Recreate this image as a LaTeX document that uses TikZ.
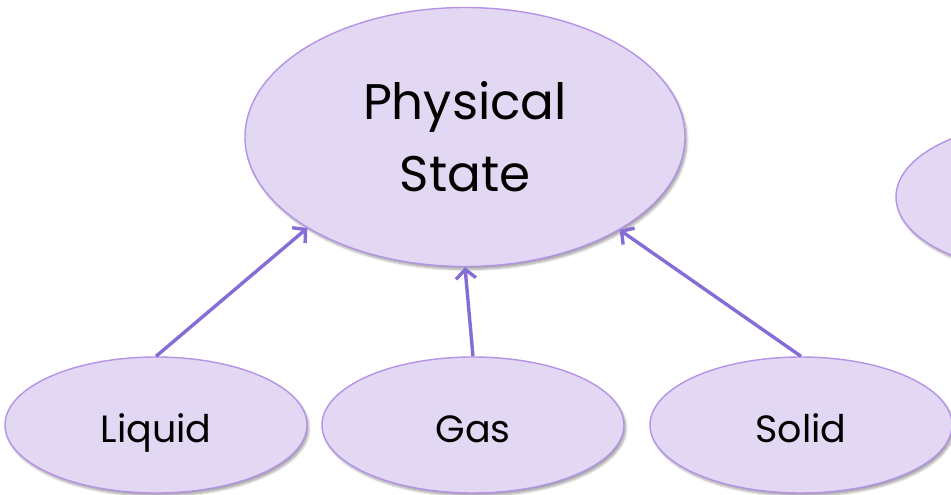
\documentclass[tikz,border=0pt]{standalone}
\usepackage{fontspec}
\setmainfont{Poppins}
\usetikzlibrary{shapes.geometric,arrows.meta,shadows.blur}
\definecolor{bubblefill}{RGB}{226,216,243}
\definecolor{bubbleedge}{RGB}{180,146,230}
\definecolor{linkcolor}{RGB}{134,108,214}
\tikzset{
  bubble/.style={ellipse, draw=bubbleedge, line width=1.4pt, fill=bubblefill,
    inner sep=0pt, align=center,
    blur shadow={shadow xshift=2pt, shadow yshift=-3pt, shadow blur steps=6, shadow opacity=35}},
  bigbubble/.style={bubble, minimum width=440pt, minimum height=259pt, font=\fontsize{50}{72}\selectfont},
  smallbubble/.style={bubble, minimum width=302pt, minimum height=136pt,
    font=\fontsize{38}{40}\selectfont, text height=34pt, text depth=0pt},
  link/.style={draw=linkcolor, line width=3.4pt, -{Straight Barb[length=9pt,width=20pt,line width=3.4pt]}}
}
\begin{document}
\begin{tikzpicture}[x=1pt,y=-1pt]
  \useasboundingbox (0,0) rectangle (951,495);
  \begin{scope}
    \clip (0,0) rectangle (951,495);
    % main category and its partially visible neighbour
    \node[bigbubble] (phys) at (465,137) {Physical\\State};
    \node[bubble, minimum width=300pt, minimum height=150pt] (side) at (1046,197) {};
    % the three states
    \node[smallbubble] (liquid) at (156,425) {Liquid};
    \node[smallbubble] (gas) at (473,425) {Gas};
    \node[smallbubble] (solid) at (801,425) {Solid};
    % links from each state up to the category
    \draw[link] (liquid.north) -- (phys.210);
    \draw[link] (gas.north) -- (phys.south);
    \draw[link] (solid.north) -- (phys.329);
  \end{scope}
\end{tikzpicture}
\end{document}
